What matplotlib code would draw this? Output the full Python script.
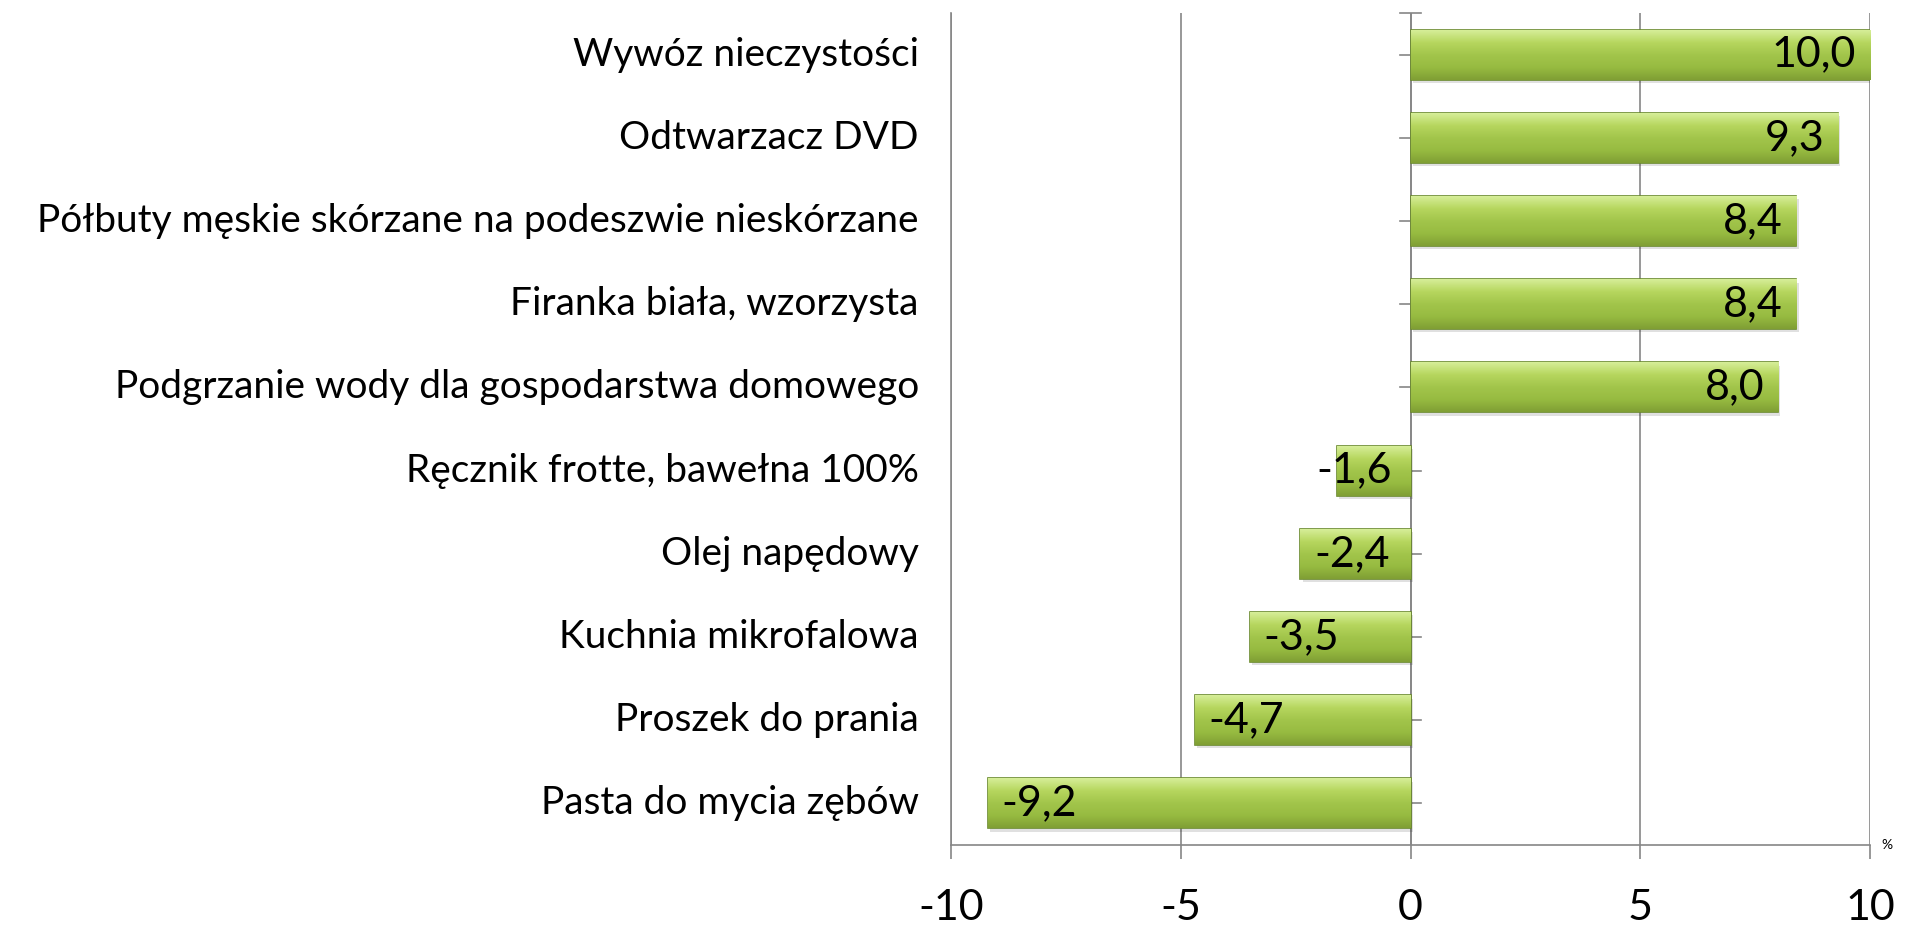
import numpy as np
import matplotlib.pyplot as plt
from matplotlib.colors import LinearSegmentedColormap

categories = ['Wywóz nieczystości', 'Odtwarzacz DVD',
              'Półbuty męskie skórzane na podeszwie nieskórzane',
              'Firanka biała, wzorzysta',
              'Podgrzanie wody dla gospodarstwa domowego',
              'Ręcznik frotte, bawełna 100%', 'Olej napędowy',
              'Kuchnia mikrofalowa', 'Proszek do prania',
              'Pasta do mycia zębów']
values = [10.0, 9.3, 8.4, 8.4, 8.0, -1.6, -2.4, -3.5, -4.7, -9.2]
xticks = [-10, -5, 0, 5, 10]

plt.rcParams['font.family'] = ['Lato', 'DejaVu Sans']

fig = plt.figure(figsize=(19.07, 9.26), dpi=100)
ax = fig.add_axes([0.4987, 0.0875, 0.4819, 0.8985])

y = np.arange(len(categories))
bars = ax.barh(y, values, height=0.6, color='#9cc044', edgecolor='#6a8a2c',
               linewidth=1.2, zorder=3)

# vertical gradient inside each bar (light top, darker bottom)
green = LinearSegmentedColormap.from_list(
    'g', ['#d6ee98', '#b6d65e', '#a2c54b', '#97bb41', '#809f34'])
grad = np.linspace(0, 1, 100).reshape(-1, 1)
for b in bars:
    x0, y0 = b.get_x(), b.get_y()
    w, h = b.get_width(), b.get_height()
    im = ax.imshow(grad, cmap=green, aspect='auto', zorder=3.5,
                   extent=[x0, x0 + w, y0 + h, y0], interpolation='bicubic')
    im.set_clip_path(b)
    # soft shadow
    ax.add_patch(plt.Rectangle((x0 + 0.05, y0 + 0.04), w, h, color='#000000',
                               alpha=0.12, zorder=2.5, lw=0))

for b, v in zip(bars, values):
    txt = f'{v:.1f}'.replace('.', ',')
    yc = b.get_y() + b.get_height() / 2
    if v >= 0:
        ax.text(v - 0.3, yc, txt, ha='right', va='center', fontsize=31,
                zorder=5)
    elif v > -2:
        # label wider than the bar: Excel pushes it past the bar end
        ax.text(-0.4, yc, txt, ha='right', va='center', fontsize=31,
                zorder=5)
    else:
        ax.text(v + 0.3, yc, txt, ha='left', va='center', fontsize=31,
                zorder=5)

ax.set_xlim(-10, 10)
ax.set_ylim(len(categories) - 0.5, -0.5)
ax.set_xticks(xticks)
ax.set_xticklabels([str(t) for t in xticks], fontsize=31)
ax.tick_params(axis='x', length=10, color='#868686', width=1.2, pad=22)
ax.set_yticks([])
ax.grid(axis='x', color='#868686', linewidth=1.2, zorder=0)

for s in ['top', 'right']:
    ax.spines[s].set_visible(False)
for s in ['left', 'bottom']:
    ax.spines[s].set_color('#868686')
    ax.spines[s].set_linewidth(1.2)

# category axis crossing at 0 with cross tick marks
ax.axvline(0, color='#868686', linewidth=1.2, zorder=1)
for yi in list(y) + [-0.5]:
    ax.plot([-0.22, 0.22], [yi, yi], color='#868686', lw=1.2, zorder=1,
            clip_on=False)

for yi, c in zip(y, categories):
    ax.text(-10.7, yi, c, ha='right', va='center', fontsize=28)

ax.text(10.36, 9.5, '%', fontsize=10, ha='center', va='center')

fig.savefig('out.png', dpi=100)
